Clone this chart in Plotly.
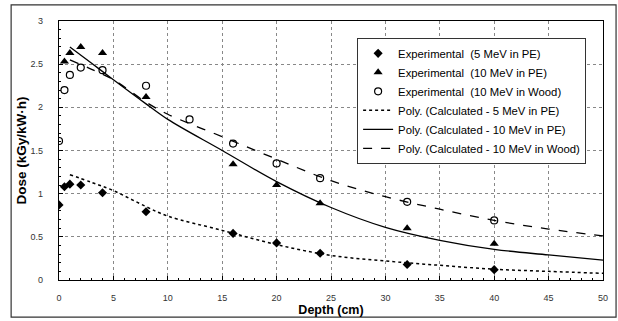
import plotly.graph_objects as go

# Experimental data
x_5pe = [0, 0.5, 1, 2, 4, 8, 16, 20, 24, 32, 40]
y_5pe = [0.87, 1.08, 1.11, 1.10, 1.01, 0.79, 0.54, 0.43, 0.31, 0.18, 0.12]

x_10pe = [0.5, 1, 2, 4, 8, 16, 20, 24, 32, 40]
y_10pe = [2.53, 2.63, 2.70, 2.63, 2.12, 1.34, 1.10, 0.89, 0.60, 0.42]

x_wood = [0, 0.5, 1, 2, 4, 8, 12, 16, 20, 24, 32, 40]
y_wood = [1.61, 2.20, 2.375, 2.46, 2.43, 2.25, 1.86, 1.58, 1.35, 1.18, 0.905, 0.69]

# Polynomial trend lines
x_fit = [1, 3, 5, 8, 10, 15, 20, 25, 30, 35, 40, 45, 50]
fit_5pe = [1.22, 1.13, 1.035, 0.85, 0.74, 0.575, 0.41, 0.285, 0.22, 0.17, 0.125, 0.10, 0.077]
fit_10pe = [2.70, 2.51, 2.32, 2.04, 1.86, 1.50, 1.14, 0.84, 0.61, 0.46, 0.355, 0.29, 0.23]
fit_wood = [2.55, 2.44, 2.32, 2.06, 1.92, 1.66, 1.40, 1.15, 0.965, 0.82, 0.69, 0.59, 0.51]

x_ticks = [0, 5, 10, 15, 20, 25, 30, 35, 40, 45, 50]
y_ticks = [0, 0.5, 1, 1.5, 2, 2.5, 3]
y_tick_labels = ["0", "0.5", "1", "1.5", "2", "2.5", "3"]

NB = "\u00a0"
names = [
    "Experimental" + NB + NB + "(5 MeV in PE)",
    "Experimental" + NB + NB + "(10 MeV in PE)",
    "Experimental" + NB + NB + "(10 MeV in Wood)",
    "Poly. (Calculated - 5 MeV in PE)",
    "Poly. (Calculated - 10 MeV in PE)",
    "Poly. (Calculated - 10 MeV in Wood)",
]

FONT = "Liberation Sans, Arial, sans-serif"

fig = go.Figure()
fig.add_trace(go.Scatter(x=x_5pe, y=y_5pe, mode="markers", name=names[0],
                         marker=dict(symbol="diamond", size=7, color="black")))
fig.add_trace(go.Scatter(x=x_10pe, y=y_10pe, mode="markers", name=names[1],
                         marker=dict(symbol="triangle-up", size=8, color="black")))
fig.add_trace(go.Scatter(x=x_wood, y=y_wood, mode="markers", name=names[2],
                         marker=dict(symbol="circle-open", size=7, color="black",
                                     line=dict(width=1.2, color="black"))))
fig.add_trace(go.Scatter(x=x_fit, y=fit_5pe, mode="lines", name=names[3],
                         line=dict(color="black", width=1.5, dash="dot", shape="spline")))
fig.add_trace(go.Scatter(x=x_fit, y=fit_10pe, mode="lines", name=names[4],
                         line=dict(color="black", width=1.3, shape="spline")))
fig.add_trace(go.Scatter(x=x_fit, y=fit_wood, mode="lines", name=names[5],
                         line=dict(color="black", width=1.3, dash="dash", shape="spline")))

axis_common = dict(
    showline=True, linecolor="black", linewidth=1.3, mirror=True,
    showgrid=True, gridcolor="#888888", griddash="dot", gridwidth=1,
    zeroline=False, ticks="inside", ticklen=4, tickcolor="black",
    tickfont=dict(family=FONT, size=9, color="#333333"),
    automargin=False,
)

fig.update_xaxes(
    range=[0, 50], tickvals=x_ticks, ticklabelstandoff=9,
    minor=dict(ticks="inside", ticklen=2, dtick=1, tickcolor="black", showgrid=False),
    title=dict(text="<b>Depth (cm)</b>", font=dict(family=FONT, size=12.5, color="black"), standoff=1),
    **axis_common,
)
fig.update_yaxes(
    range=[0, 3], tickvals=y_ticks, ticktext=y_tick_labels, ticklabelstandoff=13,
    minor=dict(ticks="inside", ticklen=2, dtick=0.1, tickcolor="black", showgrid=False),
    title=dict(text="<b>Dose (kGy/kW·h)</b>", font=dict(family=FONT, size=13.5, color="black"), standoff=0),
    **axis_common,
)

fig.update_layout(
    width=618, height=321,
    margin=dict(l=59, r=15, t=21, b=41),
    paper_bgcolor="white", plot_bgcolor="white",
    font=dict(family=FONT, color="black"),
    legend=dict(
        x=0.548, y=0.935, xanchor="left", yanchor="top",
        bgcolor="white", bordercolor="#333333", borderwidth=1,
        font=dict(family=FONT, size=11.3, color="black"),
        tracegroupgap=0, itemwidth=30,
    ),
    shapes=[dict(type="rect", xref="paper", yref="paper",
                 x0=-0.088, x1=1.024, y0=-0.143, y1=1.062,
                 line=dict(color="#333333", width=1.2), fillcolor="rgba(0,0,0,0)",
                 layer="below")],
)

fig.write_html("out.html", config={"displayModeBar": False},
               post_script="document.body.style.margin='0';document.body.style.overflow='hidden';")
